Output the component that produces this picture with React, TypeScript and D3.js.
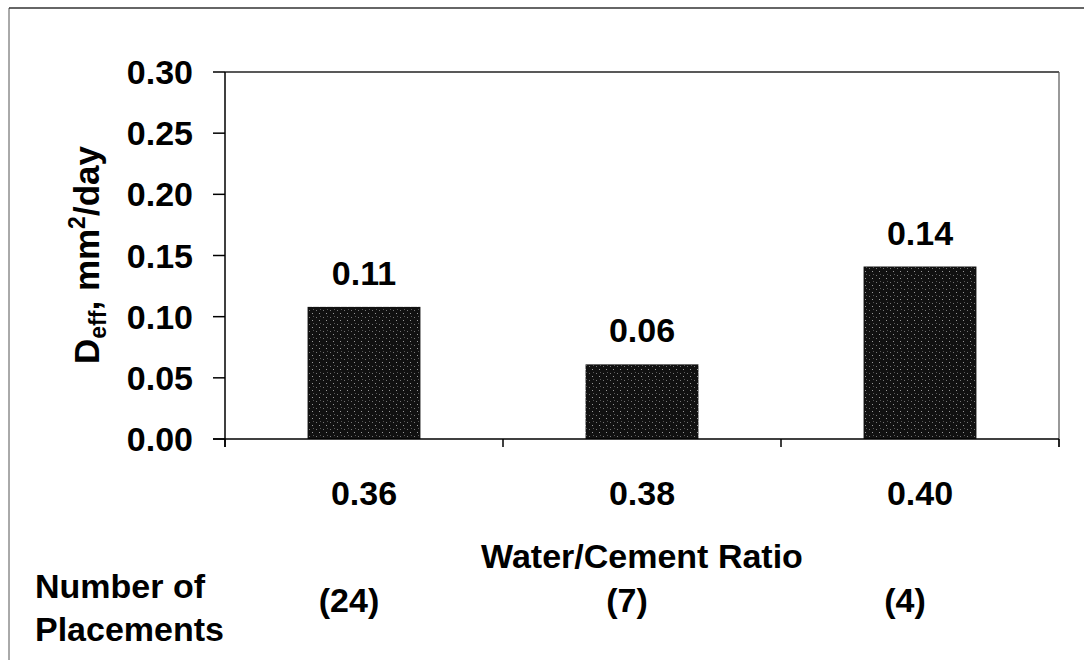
import React from "react";
import * as d3 from "d3";

const categories = ["0.36", "0.38", "0.40"];
const values = [0.108, 0.061, 0.141];
const valueLabels = ["0.11", "0.06", "0.14"];
const placements = ["(24)", "(7)", "(4)"];
const yTicks = [0, 0.05, 0.1, 0.15, 0.2, 0.25, 0.3];

const W = 1084;
const H = 660;
const M = { left: 225, right: 1059, top: 72, bottom: 439 };
const FONT = "'Liberation Sans', Arial, Helvetica, sans-serif";

export default function App() {
  const x = d3
    .scaleBand<string>()
    .domain(categories)
    .range([M.left, M.right])
    .paddingInner(0.594)
    .paddingOuter(0.297);
  const xCat = d3.scaleBand<string>().domain(categories).range([M.left, M.right]);
  const y = d3.scaleLinear().domain([0, 0.3]).range([M.bottom, M.top]);
  const fmt = d3.format(".2f");
  const catBounds = [M.left, ...categories.map((c) => (xCat(c) as number) + xCat.bandwidth())];

  return (
    <svg
      width={W}
      height={H}
      style={{ position: "absolute", left: 0, top: 0, background: "#fff" }}
      fontFamily={FONT}
      fontWeight="bold"
    >
      <defs>
        <pattern id="speck" width="7" height="7" patternUnits="userSpaceOnUse">
          <rect width="7" height="7" fill="#111" />
          <rect x="1" y="2" width="1" height="1" fill="#777" />
          <rect x="4" y="5" width="1" height="1" fill="#999" />
          <rect x="5" y="1" width="1" height="1" fill="#555" />
        </pattern>
      </defs>
      {/* outer frame (left and top visible) */}
      <line x1={9} y1={8} x2={9} y2={H} stroke="#555" strokeWidth={1} />
      <line x1={9} y1={8} x2={W} y2={8} stroke="#333" strokeWidth={1.5} />

      {/* plot frame */}
      <line x1={M.left} y1={M.top} x2={M.right} y2={M.top} stroke="#222" strokeWidth={1.5} />
      <line x1={M.right} y1={M.top} x2={M.right} y2={M.bottom + 8} stroke="#555" strokeWidth={1.2} />

      {/* bars */}
      {categories.map((c, i) => (
        <rect
          key={c}
          x={x(c)}
          y={y(values[i])}
          width={x.bandwidth()}
          height={M.bottom - y(values[i])}
          fill="url(#speck)"
        />
      ))}

      {/* value labels */}
      {categories.map((c, i) => (
        <text
          key={"v" + c}
          x={(x(c) as number) + x.bandwidth() / 2}
          y={y(values[i]) - 22}
          textAnchor="middle"
          fontSize={34}
          fill="#000"
        >
          {valueLabels[i]}
        </text>
      ))}

      {/* y axis */}
      <line x1={M.left} y1={M.top} x2={M.left} y2={M.bottom + 8} stroke="#000" strokeWidth={1.5} />
      {yTicks.map((t) => (
        <g key={t}>
          <line x1={M.left - 12} x2={M.left} y1={y(t)} y2={y(t)} stroke="#000" strokeWidth={1.5} />
          <text x={193} y={y(t) + 12} textAnchor="end" fontSize={34} fill="#000">
            {fmt(t)}
          </text>
        </g>
      ))}

      {/* x axis */}
      <line x1={M.left - 12} y1={M.bottom} x2={M.right} y2={M.bottom} stroke="#000" strokeWidth={1.5} />
      {catBounds.map((b, i) => (
        <line key={"xt" + i} x1={b} x2={b} y1={M.bottom} y2={M.bottom + 8} stroke="#000" strokeWidth={1.5} />
      ))}
      {categories.map((c) => (
        <text
          key={"xl" + c}
          x={(xCat(c) as number) + xCat.bandwidth() / 2}
          y={505}
          textAnchor="middle"
          fontSize={34}
          fill="#000"
        >
          {c}
        </text>
      ))}

      {/* x axis title */}
      <text x={(M.left + M.right) / 2} y={568} textAnchor="middle" fontSize={34} fill="#000">
        Water/Cement Ratio
      </text>

      {/* placements */}
      <text x={35} y={598} fontSize={34} fill="#000">
        Number of
      </text>
      <text x={35} y={641} fontSize={34} fill="#000">
        Placements
      </text>
      {categories.map((c, i) => (
        <text
          key={"p" + c}
          x={(xCat(c) as number) + xCat.bandwidth() / 2 - 15}
          y={612}
          textAnchor="middle"
          fontSize={34}
          fill="#000"
        >
          {placements[i]}
        </text>
      ))}

      {/* y axis title */}
      <text
        transform={`translate(99, 255) rotate(-90)`}
        textAnchor="middle"
        fontSize={35}
        fill="#000"
      >
        <tspan>D</tspan>
        <tspan fontSize={23} dy={7}>eff</tspan>
        <tspan dy={-7}>, mm</tspan>
        <tspan fontSize={23} dy={-14}>2</tspan>
        <tspan dy={14}>/day</tspan>
      </text>
    </svg>
  );
}
